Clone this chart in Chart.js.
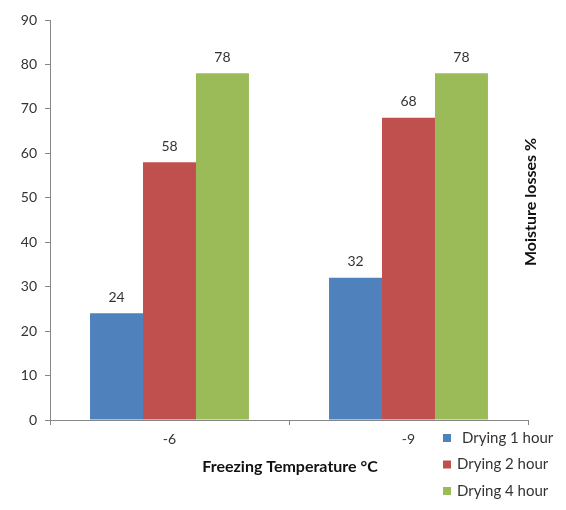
<!DOCTYPE html>
<html><head><meta charset="utf-8">
<script src="https://cdn.jsdelivr.net/npm/chart.js@4"></script>
<style>html,body{margin:0;padding:0;background:#fff;}#wrap{position:relative;width:566px;height:510px;}</style>
</head><body><div id="wrap"><canvas id="c" width="566" height="510"></canvas></div>
<script>
const categories = ["-6", "-9"];
const seriesNames = ["Drying 1 hour", "Drying 2 hour", "Drying 4 hour"];
const drying1 = [24, 32];
const drying2 = [58, 68];
const drying4 = [78, 78];
const colors = ["#4F81BD", "#C0504D", "#9BBB59"];
const yTitle = "Moisture losses %";
const xTitle = "Freezing Temperature \u00B0C";
const FONT = "Lato, 'Open Sans', sans-serif";

const valueLabels = {
  id: 'valueLabels',
  afterDatasetsDraw(chart) {
    const ctx = chart.ctx;
    ctx.save();
    ctx.font = "14px " + FONT;
    ctx.fillStyle = "#333";
    ctx.textAlign = "center";
    ctx.textBaseline = "bottom";
    chart.data.datasets.forEach((ds, i) => {
      chart.getDatasetMeta(i).data.forEach((bar, j) => {
        ctx.fillText(String(ds.data[j]), bar.x, bar.y - 9);
      });
    });
    ctx.restore();
  }
};

const extras = {
  id: 'extras',
  afterDraw(chart) {
    const ctx = chart.ctx;
    ctx.save();
    ctx.font = "bold 16px " + FONT;
    ctx.fillStyle = "#111";
    ctx.textAlign = "center";
    ctx.textBaseline = "middle";
    ctx.translate(531, 202);
    ctx.rotate(-Math.PI / 2);
    ctx.fillText(yTitle, 0, 0);
    ctx.restore();
    ctx.save();
    ctx.font = "bold 16px " + FONT;
    ctx.fillStyle = "#111";
    ctx.textAlign = "center";
    ctx.textBaseline = "middle";
    ctx.fillText(xTitle, 290, 467);
    ctx.font = "15px " + FONT;
    ctx.textAlign = "left";
    chart.data.datasets.forEach((ds, i) => {
      const y = 438 + i * 26.5;
      ctx.fillStyle = ds.backgroundColor;
      ctx.fillRect(443, y - 4, 8, 8);
      ctx.fillStyle = "#333";
      ctx.fillText(ds.label, i === 0 ? 462 : 457, y);
    });
    ctx.restore();
  }
};

new Chart(document.getElementById('c'), {
  type: 'bar',
  data: {
    labels: categories,
    datasets: [
      { label: seriesNames[0], data: drying1, backgroundColor: colors[0] },
      { label: seriesNames[1], data: drying2, backgroundColor: colors[1] },
      { label: seriesNames[2], data: drying4, backgroundColor: colors[2] }
    ]
  },
  options: {
    responsive: false,
    animation: false,
    layout: { padding: { top: 20, right: 38, bottom: 0, left: 0 } },
    datasets: { bar: { barPercentage: 1.0, categoryPercentage: 0.665 } },
    plugins: { legend: { display: false }, tooltip: { enabled: false } },
    scales: {
      x: {
        grid: { display: true, drawOnChartArea: false, drawTicks: true, tickLength: 5, color: '#868686' },
        border: { display: true, color: '#868686', width: 1 },
        ticks: { color: '#333', font: { family: FONT, size: 14 }, padding: 6 },
        afterFit(s) { s.height = 90; }
      },
      y: {
        min: 0, max: 90,
        grid: { display: true, drawOnChartArea: false, drawTicks: true, tickLength: 5, color: '#868686' },
        border: { display: true, color: '#868686', width: 1 },
        ticks: { stepSize: 10, color: '#333', font: { family: FONT, size: 14 }, padding: 8 },
        afterFit(s) { s.width = 50; }
      }
    }
  },
  plugins: [valueLabels, extras]
});
</script></body></html>
